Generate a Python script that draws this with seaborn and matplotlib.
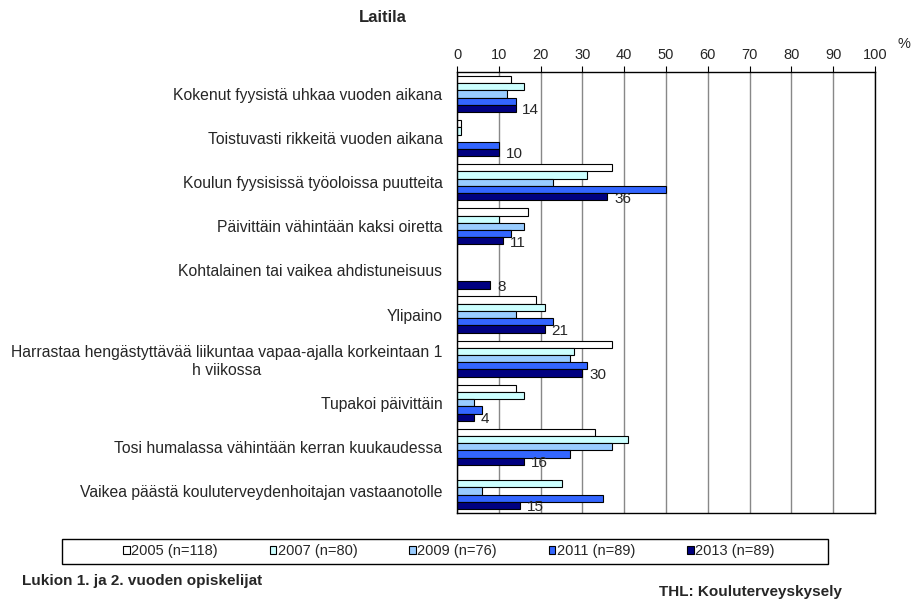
import numpy as np
import pandas as pd
import matplotlib
matplotlib.use("Agg")
import matplotlib.pyplot as plt
from matplotlib.patches import Rectangle
import seaborn as sns

categories = [
    "Kokenut fyysistä uhkaa vuoden aikana",
    "Toistuvasti rikkeitä vuoden aikana",
    "Koulun fyysisissä työoloissa puutteita",
    "Päivittäin vähintään kaksi oiretta",
    "Kohtalainen tai vaikea ahdistuneisuus",
    "Ylipaino",
    "Harrastaa hengästyttävää liikuntaa vapaa-ajalla korkeintaan 1\nh viikossa",
    "Tupakoi päivittäin",
    "Tosi humalassa vähintään kerran kuukaudessa",
    "Vaikea päästä kouluterveydenhoitajan vastaanotolle",
]
series_names = ["2005 (n=118)", "2007 (n=80)", "2009 (n=76)", "2011 (n=89)", "2013 (n=89)"]
v2005 = [13, 1, 37, 17, np.nan, 19, 37, 14, 33, np.nan]
v2007 = [16, 1, 31, 10, np.nan, 21, 28, 16, 41, 25]
v2009 = [12, np.nan, 23, 16, np.nan, 14, 27, 4, 37, 6]
v2011 = [14, 10, 50, 13, np.nan, 23, 31, 6, 27, 35]
v2013 = [14, 10, 36, 11, 8, 21, 30, 4, 16, 15]
colors = ["#FFFFFF", "#CCFFFF", "#99CCFF", "#3366FF", "#000080"]
x_ticks = [0, 10, 20, 30, 40, 50, 60, 70, 80, 90, 100]

rows = []
for name, vals in zip(series_names, [v2005, v2007, v2009, v2011, v2013]):
    for c, v in zip(categories, vals):
        rows.append({"cat": c, "series": name, "value": v})
df = pd.DataFrame(rows)

sns.set_style("white")
plt.rcParams["font.family"] = ["Liberation Sans", "DejaVu Sans"]

fig = plt.figure(figsize=(9.13, 6.0), dpi=100)
ax = fig.add_axes([457/913, 1-513/600, 418/913, (513-72)/600])

sns.barplot(data=df, y="cat", x="value", hue="series", order=categories,
            hue_order=series_names, palette=colors, saturation=1,
            edgecolor="black", linewidth=0.8, width=0.82, orient="h",
            errorbar=None, ax=ax, legend=True)

ax.set_xlim(0, 100)
ax.set_ylim(len(categories) - 0.5, -0.5)
ax.set_xticks(x_ticks)
ax.xaxis.tick_top()
ax.tick_params(axis="x", top=True, bottom=False, direction="out", length=4,
               width=0.8, labelsize=10.5, pad=3, color="black")
ax.tick_params(axis="y", left=False, labelsize=11.3, pad=7)
for lab in ax.get_yticklabels():
    lab.set_multialignment("center")
ax.set_xlabel("")
ax.set_ylabel("")
ax.grid(axis="x", color="#888888", linewidth=1.0)
ax.set_axisbelow(True)
for sp in ax.spines.values():
    sp.set_visible(True)
    sp.set_color("black")
    sp.set_linewidth(1.0)

# value labels for 2013
last = ax.containers[-1]
for patch, v in zip(last.patches, v2013):
    if np.isnan(v):
        continue
    ax.text(patch.get_width() + 1.6, patch.get_y() + patch.get_height() * 0.75,
            f"{int(v)}", va="center", ha="left", fontsize=11)

handles, labels = ax.get_legend_handles_labels()
ax.get_legend().remove()
fig.patches.append(Rectangle((62/913, 1-564/600), 766/913, 25/600,
                             transform=fig.transFigure, fill=False,
                             edgecolor="black", linewidth=1.0))
leg = fig.legend(handles, labels, loc="center",
                 bbox_to_anchor=(449/913, 1-551.5/600),
                 ncol=5, frameon=False,
                 fontsize=10.5, handlelength=0.45, handleheight=0.45,
                 handletextpad=0.1, columnspacing=3.55, borderaxespad=0)

fig.text(383/913, 1-17/600, "Laitila", ha="center", va="center",
         fontsize=12, fontweight="bold")
fig.text(904/913, 1-44/600, "%", ha="center", va="center", fontsize=10.5)
fig.text(22/913, 1-581/600, "Lukion 1. ja 2. vuoden opiskelijat",
         ha="left", va="center", fontsize=11, fontweight="bold")
fig.text(659/913, 1-592/600, "THL: Kouluterveyskysely",
         ha="left", va="center", fontsize=11, fontweight="bold")

fig.savefig("out.png", dpi=100)
